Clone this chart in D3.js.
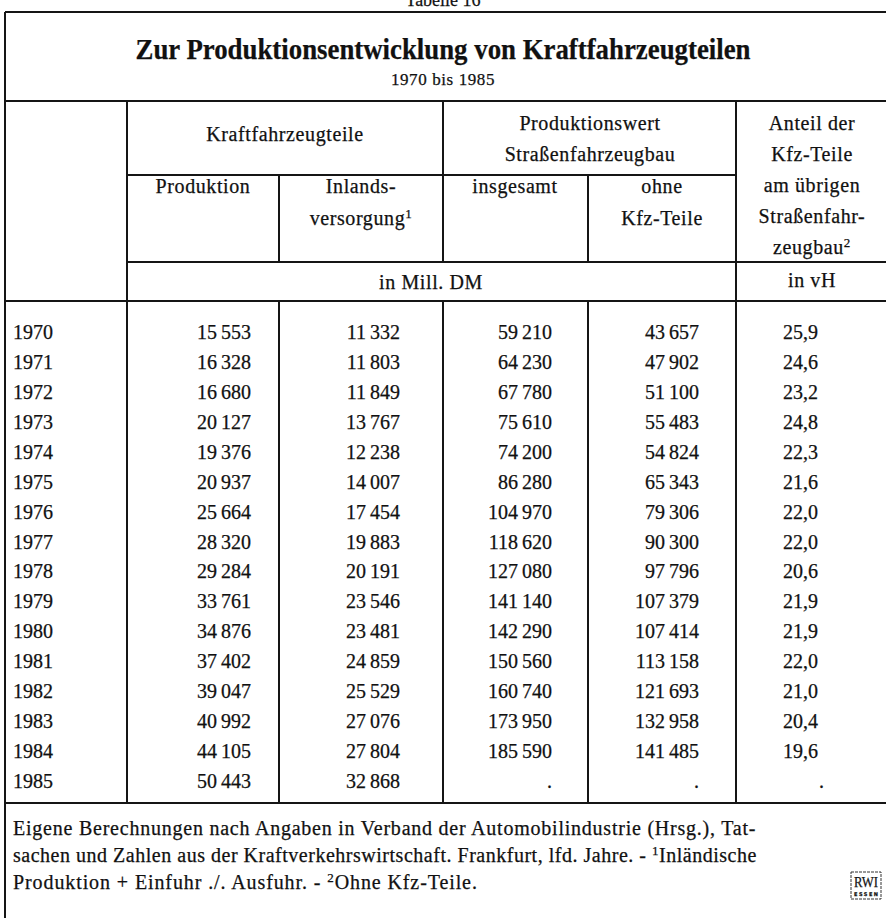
<!DOCTYPE html>
<html>
<head>
<meta charset="utf-8">
<script src="https://cdn.jsdelivr.net/npm/d3@7/dist/d3.min.js"></script>
<style>
  body { margin: 0; background: #fff; }
  text { font-family: "Liberation Serif", "Times New Roman", serif; fill: #111; stroke: #111; stroke-width: 0.25px; }
  .words { letter-spacing: 0.6px; }
</style>
</head>
<body>
<script>
// Tabelle 16 - values as printed
var years = [1970, 1971, 1972, 1973, 1974, 1975, 1976, 1977, 1978, 1979, 1980, 1981, 1982, 1983, 1984, 1985];
var produktion = [15553, 16328, 16680, 20127, 19376, 20937, 25664, 28320, 29284, 33761, 34876, 37402, 39047, 40992, 44105, 50443];
var inlandsversorgung = [11332, 11803, 11849, 13767, 12238, 14007, 17454, 19883, 20191, 23546, 23481, 24859, 25529, 27076, 27804, 32868];
var insgesamt = [59210, 64230, 67780, 75610, 74200, 86280, 104970, 118620, 127080, 141140, 142290, 150560, 160740, 173950, 185590, null];
var ohneKfzTeile = [43657, 47902, 51100, 55483, 54824, 65343, 79306, 90300, 97796, 107379, 107414, 113158, 121693, 132958, 141485, null];
var anteil = [25.9, 24.6, 23.2, 24.8, 22.3, 21.6, 22.0, 22.0, 20.6, 21.9, 21.9, 22.0, 21.0, 20.4, 19.6, null];

var columns = ["jahr", "produktion", "inland", "insgesamt", "ohne", "anteil"];
var series = { produktion: produktion, inland: inlandsversorgung, insgesamt: insgesamt, ohne: ohneKfzTeile, anteil: anteil };

var width = 886, height = 918;

var de = d3.formatLocale({ decimal: ",", thousands: "\u2009", grouping: [3], currency: ["", ""] });
var fmtInt = de.format(",d"), fmtDec = de.format(",.1f");

var svg = d3.select("body").append("svg")
    .attr("width", width)
    .attr("height", height);

// right edge of the numbers in each column
var xRight = d3.scaleOrdinal()
    .domain(columns)
    .range([0, 251, 400, 552, 699, 818]);

var y = d3.scalePoint()
    .domain(years)
    .range([339, 788]);

var ink = "#151515";
function hline(x1, x2, yy) {
    svg.append("line").attr("x1", x1).attr("x2", x2).attr("y1", yy).attr("y2", yy)
        .attr("stroke", ink).attr("stroke-width", 2);
}
function vline(xx, y1, y2) {
    svg.append("line").attr("x1", xx).attr("x2", xx).attr("y1", y1).attr("y2", y2)
        .attr("stroke", ink).attr("stroke-width", 2);
}

// caption above the frame (cut off at top)
svg.append("text").attr("x", 443).attr("y", 6).attr("text-anchor", "middle")
    .style("font-size", "18px").text("Tabelle 16");

// frame
hline(5, 890, 12);
vline(5, 12, 918);
hline(5, 890, 101);
hline(127, 736, 175);
hline(127, 890, 262);
hline(5, 890, 301);
hline(5, 890, 803);
vline(127, 101, 803);
vline(736, 101, 803);
vline(443, 101, 262);
vline(443, 301, 803);
[279, 588].forEach(function (e) {
    vline(e, 175, 262);
    vline(e, 301, 803);
});

// title
svg.append("text").attr("x", 443).attr("y", 59).attr("text-anchor", "middle")
    .attr("textLength", 615).attr("lengthAdjust", "spacingAndGlyphs")
    .style("font-size", "29px").style("font-weight", "bold")
    .text("Zur Produktionsentwicklung von Kraftfahrzeugteilen");
svg.append("text").attr("x", 443).attr("y", 85).attr("text-anchor", "middle")
    .attr("class", "words")
    .style("font-size", "17px").text("1970 bis 1985");

// header cells
var head = svg.append("g").style("font-size", "20px").attr("class", "words").attr("text-anchor", "middle");
function cell(x, yy, str, sup) {
    var t = head.append("text").attr("x", x).attr("y", yy).text(str);
    if (sup) t.append("tspan").attr("dy", -7).style("font-size", "13px").text(sup);
}
cell(285, 141, "Kraftfahrzeugteile");
cell(590, 130, "Produktionswert");
cell(590, 161, "Straßenfahrzeugbau");
cell(812, 130, "Anteil der");
cell(812, 161, "Kfz-Teile");
cell(812, 192, "am übrigen");
cell(812, 223, "Straßenfahr-");
cell(812, 254, "zeugbau", "2");
cell(203, 193, "Produktion");
cell(361, 193, "Inlands-");
cell(361, 225, "versorgung", "1");
cell(515, 193, "insgesamt");
cell(662, 193, "ohne");
cell(662, 225, "Kfz-Teile");
cell(431, 289, "in Mill. DM");
cell(812, 287, "in vH");

// body
var body = svg.append("g").style("font-size", "20px");
body.selectAll("text.year")
    .data(years)
    .enter().append("text")
    .attr("class", "year")
    .attr("x", 13)
    .attr("y", function (d) { return y(d); })
    .text(function (d) { return d; });

columns.slice(1).forEach(function (c) {
    body.selectAll("text." + c)
        .data(series[c])
        .enter().append("text")
        .attr("class", c)
        .attr("text-anchor", "end")
        .attr("x", function (d) {
            if (d == null) return c == "anteil" ? xRight(c) + 6 : xRight(c);
            return xRight(c);
        })
        .attr("y", function (d, i) { return y(years[i]); })
        .text(function (d) {
            if (d == null) return ".";
            return c == "anteil" ? fmtDec(d) : fmtInt(d);
        });
});

// footnote
var foot = svg.append("g").style("font-size", "20px").attr("class", "words");
foot.append("text").attr("x", 13).attr("y", 835)
    .attr("textLength", 743).attr("lengthAdjust", "spacing")
    .text("Eigene Berechnungen nach Angaben in Verband der Automobilindustrie (Hrsg.), Tat-");
var l2 = foot.append("text").attr("x", 13).attr("y", 862)
    .attr("textLength", 744).attr("lengthAdjust", "spacing")
    .text("sachen und Zahlen aus der Kraftverkehrswirtschaft. Frankfurt, lfd. Jahre. - ");
l2.append("tspan").attr("dy", -7).style("font-size", "13px").text("1");
l2.append("tspan").attr("dy", 7).text("Inländische");
var l3 = foot.append("text").attr("x", 13).attr("y", 889)
    .style("letter-spacing", "0.9px")
    .text("Produktion + Einfuhr ./. Ausfuhr. - ");
l3.append("tspan").attr("dy", -7).style("font-size", "13px").text("2");
l3.append("tspan").attr("dy", 7).text("Ohne Kfz-Teile.");

// RWI logo
var logo = svg.append("g").attr("transform", "translate(851,872)");
logo.append("rect").attr("width", 30).attr("height", 27)
    .attr("fill", "none").attr("stroke", "#333").attr("stroke-width", 1)
    .attr("stroke-dasharray", "3,1");
logo.append("text").attr("x", 15).attr("y", 15).attr("text-anchor", "middle")
    .attr("textLength", 24).attr("lengthAdjust", "spacingAndGlyphs")
    .style("font-size", "14px").text("RWI");
logo.append("text").attr("x", 15).attr("y", 24).attr("text-anchor", "middle")
    .attr("textLength", 24)
    .style("font-size", "5px").style("font-family", "DejaVu Sans").style("font-weight", "bold")
    .text("ESSEN");
</script>
</body>
</html>
